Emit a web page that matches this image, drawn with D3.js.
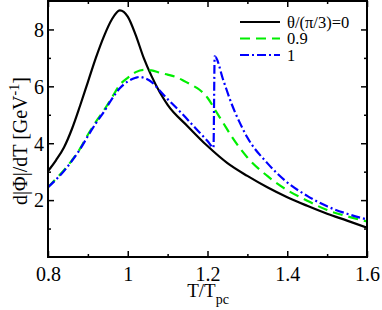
<!DOCTYPE html>
<html lang="en">
<head>
<meta charset="UTF-8">
<title>d|Phi|/dT vs T/Tpc</title>
<script src="https://d3js.org/d3.v7.min.js"></script>
<style>
    body { margin: 0; background: #fff; }
    svg, svg text { font-family: "Liberation Serif", "Times New Roman", "DejaVu Serif", serif; }
    .frame { fill: none; stroke: #000; stroke-width: 2px; }
    .tick line { stroke: #000; stroke-width: 1.5px; }
    .curve { fill: none; stroke-width: 2.2px; }
</style>
</head>
<body>
<div id="chart"></div>
<script>
    // T/Tpc grid for each curve and the read-off values
    const tBlack = [0.80, 0.82, 0.84, 0.86, 0.88, 0.90, 0.92, 0.94, 0.96, 0.98, 0.99, 1.00, 1.02, 1.04, 1.06, 1.08, 1.10, 1.15, 1.20, 1.25, 1.30, 1.35, 1.40, 1.45, 1.50, 1.55, 1.60];
    const vBlack = [3.02, 3.4, 3.85, 4.5, 5.3, 6.15, 7.0, 7.75, 8.35, 8.67, 8.62, 8.45, 7.8, 7.0, 6.35, 5.8, 5.35, 4.6, 3.9, 3.3, 2.85, 2.45, 2.1, 1.8, 1.52, 1.28, 1.03];

    const tGreen = [0.80, 0.82, 0.84, 0.86, 0.88, 0.90, 0.92, 0.94, 0.96, 0.98, 1.00, 1.02, 1.04, 1.06, 1.08, 1.10, 1.12, 1.14, 1.16, 1.18, 1.20, 1.22, 1.24, 1.26, 1.28, 1.30, 1.35, 1.40, 1.45, 1.50, 1.55, 1.60];
    const vGreen = [2.45, 2.75, 3.05, 3.4, 3.8, 4.3, 4.75, 5.15, 5.6, 6.05, 6.3, 6.5, 6.58, 6.56, 6.48, 6.41, 6.33, 6.2, 6.05, 5.88, 5.6, 5.15, 4.7, 4.25, 3.85, 3.5, 2.85, 2.35, 1.98, 1.65, 1.43, 1.25];

    const tBlue = [0.80, 0.82, 0.84, 0.86, 0.88, 0.90, 0.92, 0.94, 0.96, 0.98, 1.00, 1.02, 1.03, 1.04, 1.06, 1.08, 1.10, 1.12, 1.14, 1.16, 1.18, 1.20, 1.215, 1.218, 1.24, 1.26, 1.28, 1.30, 1.35, 1.40, 1.45, 1.50, 1.55, 1.60];
    const vBlue = [2.45, 2.72, 3.02, 3.38, 3.78, 4.25, 4.7, 5.1, 5.55, 5.93, 6.17, 6.3, 6.33, 6.3, 6.15, 5.85, 5.55, 5.27, 4.98, 4.68, 4.38, 4.08, 3.85, 7.05, 6.2, 5.4, 4.75, 4.2, 3.3, 2.62, 2.15, 1.78, 1.52, 1.32];

    const legendLabels = ["\u03b8/(\u03c0/3)=0", "0.9", "1"];
    const xMajor = [0.8, 1.0, 1.2, 1.4, 1.6];
    const xMinor = [0.9, 1.1, 1.3, 1.5];
    const yMajor = [2, 4, 6, 8];
    const yMinor = [1, 3, 5, 7];

    const serif = "'Liberation Serif', 'Times New Roman', serif";
    const width = 382, height = 310;
    const margin = { left: 48, right: 15, top: 1, bottom: 53 };
    const innerW = width - margin.left - margin.right;
    const innerH = height - margin.top - margin.bottom;

    const x = d3.scaleLinear().domain([0.8, 1.6]).range([0, innerW]);
    const y = d3.scaleLinear().domain([0, 9]).range([innerH, 0]);

    const svg = d3.select("#chart").append("svg")
        .attr("width", width)
        .attr("height", height)
        .attr("font-family", serif);

    const g = svg.append("g")
        .attr("transform", `translate(${margin.left},${margin.top})`);

    const series = [
        { t: tBlack, v: vBlack, color: "#000000", dash: null },
        { t: tGreen, v: vGreen, color: "#00ee00", dash: "10,6" },
        { t: tBlue, v: vBlue, color: "#0000ff", dash: "9,3,2,3" }
    ];

    const line = d3.line()
        .x(d => x(d[0]))
        .y(d => y(d[1]))
        .curve(d3.curveMonotoneX);

    g.append("clipPath").attr("id", "clip")
        .append("rect").attr("width", innerW).attr("height", innerH);

    g.append("g").attr("clip-path", "url(#clip)")
        .selectAll("path")
        .data(series)
        .enter().append("path")
        .attr("class", "curve")
        .attr("stroke", d => d.color)
        .attr("stroke-dasharray", d => d.dash)
        .attr("d", d => line(d.t.map((t, i) => [t, d.v[i]])));

    // axes, ticks pointing inward on all four sides
    const major = 6, minor = 3;
    function tickAxis(axis, values, size, shift, labels) {
        const a = g.append("g");
        if (shift) a.attr("transform", shift);
        a.call(axis.tickValues(values).tickSizeInner(-size).tickSizeOuter(0)
            .tickFormat(labels ? d => d3.format("~g")(d) : ""));
        a.attr("font-family", serif).attr("font-size", 20);
        a.select(".domain").remove();
        return a;
    }
    tickAxis(d3.axisBottom(x), xMajor, major, `translate(0,${innerH})`, true)
        .selectAll("text").attr("dy", null).attr("y", 24);
    tickAxis(d3.axisBottom(x), xMinor, minor, `translate(0,${innerH})`, false);
    tickAxis(d3.axisTop(x), xMajor, major, null, false);
    tickAxis(d3.axisTop(x), xMinor, minor, null, false);
    tickAxis(d3.axisLeft(y), yMajor, major, null, true)
        .selectAll("text").attr("x", -4).attr("dy", "0.34em");
    tickAxis(d3.axisLeft(y), yMinor, minor, null, false);
    tickAxis(d3.axisRight(y), yMajor, major, `translate(${innerW},0)`, false);
    tickAxis(d3.axisRight(y), yMinor, minor, `translate(${innerW},0)`, false);

    g.append("rect").attr("class", "frame")
        .attr("width", innerW).attr("height", innerH);

    // axis titles
    const xt = svg.append("text")
        .attr("x", 208).attr("y", 297)
        .attr("text-anchor", "middle")
        .attr("font-size", 19);
    xt.append("tspan").text("T/T");
    xt.append("tspan").attr("dy", 7).attr("font-size", 14).text("pc");

    const yt = svg.append("text")
        .attr("transform", "translate(27,141) rotate(-90)")
        .attr("text-anchor", "middle")
        .attr("font-size", 20);
    yt.append("tspan").text("d|\u03a6|/dT [GeV");
    yt.append("tspan").attr("dy", -8).attr("font-size", 14).text("-1");
    yt.append("tspan").attr("dy", 8).text("]");

    // legend
    const legend = svg.append("g").attr("transform", "translate(240,22)");
    const items = legend.selectAll("g")
        .data(series)
        .enter().append("g")
        .attr("transform", (d, i) => `translate(0,${i * 16.5})`);
    items.append("line")
        .attr("x1", 0).attr("x2", 40)
        .attr("stroke", d => d.color)
        .attr("stroke-width", 2.2)
        .attr("stroke-dasharray", d => d.dash);
    items.append("text")
        .attr("x", 47).attr("dy", "0.35em")
        .attr("font-size", 16.5)
        .text((d, i) => legendLabels[i]);
</script>
</body>
</html>
